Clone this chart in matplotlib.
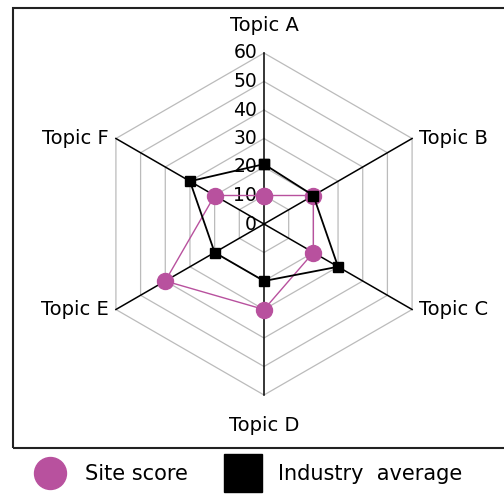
import numpy as np
import matplotlib
matplotlib.use("Agg")
import matplotlib.pyplot as plt
from matplotlib.lines import Line2D
from matplotlib.patches import Rectangle

categories = ["Topic A", "Topic B", "Topic C", "Topic D", "Topic E", "Topic F"]
site_score = [10, 20, 20, 30, 40, 20]
industry_average = [21, 20, 30, 20, 20, 30]
r_ticks = [0, 10, 20, 30, 40, 50, 60]
series_names = ["Site score", "Industry  average"]

MAGENTA = "#B8519E"
GRID = "#BBBBBB"
FONT = "DejaVu Sans"

fig = plt.figure(figsize=(5.04, 4.96), dpi=100)

# outer frame
fig.patches.append(Rectangle((13 / 504, 1 - 448 / 496), 1.2, (448 - 8) / 496,
                             transform=fig.transFigure, fill=False,
                             edgecolor="#222222", linewidth=1.5, zorder=0))

ax = fig.add_axes([93 / 504, 101 / 496, 342 / 504, 342 / 496], projection="polar")
ax.set_theta_zero_location("N")
ax.set_theta_direction(-1)
ax.set_ylim(0, 60)
ax.grid(False)
ax.spines["polar"].set_visible(False)
ax.set_xticks([])
ax.set_yticks([])
ax.patch.set_alpha(0)

n = len(categories)
angles = np.arange(n) * 2 * np.pi / n
closed = np.append(angles, angles[0])

# hexagonal grid
for r in r_ticks[1:]:
    ax.plot(closed, [r] * (n + 1), color=GRID, lw=0.9, zorder=1, clip_on=False)
# spokes
for a in angles:
    ax.plot([a, a], [0, r_ticks[-1]], color="black", lw=1.1, zorder=2, clip_on=False)

# radial labels
for r in r_ticks:
    ax.annotate(str(r), xy=(0, r), xytext=(-5, 0), textcoords="offset points",
                ha="right", va="center", fontsize=13.5, family=FONT, zorder=3)

# category labels
label_r = 60
for a, c in zip(angles, categories):
    deg = np.degrees(a) % 360
    if deg == 0:
        ax.annotate(c, xy=(a, label_r), xytext=(0, 20), textcoords="offset points",
                    ha="center", va="center", fontsize=14, family=FONT)
    elif deg == 180:
        ax.annotate(c, xy=(a, label_r), xytext=(0, -22), textcoords="offset points",
                    ha="center", va="center", fontsize=14, family=FONT)
    elif deg < 180:
        ax.annotate(c, xy=(a, label_r), xytext=(5, 0), textcoords="offset points",
                    ha="left", va="center", fontsize=14, family=FONT)
    else:
        ax.annotate(c, xy=(a, label_r), xytext=(-5, 0), textcoords="offset points",
                    ha="right", va="center", fontsize=14, family=FONT)

ax.plot(closed, site_score + site_score[:1], color=MAGENTA, lw=1.0, marker="o",
        markersize=11.5, markeredgecolor=MAGENTA, zorder=4, clip_on=False)
ax.plot(closed, industry_average + industry_average[:1], color="black", lw=1.3,
        marker="s", markersize=7.5, zorder=5, clip_on=False)

handles = [Line2D([], [], ls="none", marker="o", markersize=23, color=MAGENTA),
           Line2D([], [], ls="none", marker="s", markersize=27, color="black")]
fig.legend(handles, series_names, loc="center left", bbox_to_anchor=(35.5 / 504, 1 - 474 / 496),
           ncol=2, frameon=False, prop={"family": FONT, "size": 15},
           handlelength=1.4, handletextpad=0.99, columnspacing=1.93,
           borderaxespad=0, borderpad=0)

fig.savefig("out.png", dpi=100)
